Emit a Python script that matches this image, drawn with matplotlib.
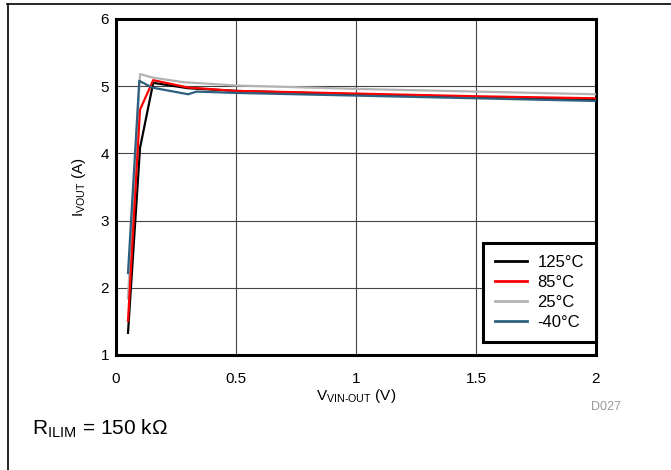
import matplotlib
matplotlib.use("Agg")
import matplotlib.pyplot as plt
from matplotlib.lines import Line2D

plt.rcParams['font.family'] = ['Liberation Sans', 'DejaVu Sans']
plt.rcParams['mathtext.fontset'] = 'custom'
plt.rcParams['mathtext.rm'] = 'Liberation Sans'
plt.rcParams['mathtext.it'] = 'Liberation Sans'
plt.rcParams['mathtext.default'] = 'regular'

# Data (V_VIN-OUT in V, I_VOUT in A)
x_125 = [0.05, 0.10, 0.155, 0.30, 0.50, 1.00, 1.50, 2.00]
y_125 = [1.33, 4.08, 5.05, 4.97, 4.93, 4.88, 4.84, 4.80]

x_85 = [0.05, 0.10, 0.155, 0.30, 0.50, 1.00, 1.50, 2.00]
y_85 = [1.51, 4.65, 5.09, 4.98, 4.93, 4.89, 4.85, 4.82]

x_25 = [0.05, 0.10, 0.15, 0.28, 0.50, 1.00, 1.50, 2.00]
y_25 = [1.84, 5.18, 5.13, 5.06, 5.01, 4.96, 4.92, 4.88]

x_m40 = [0.05, 0.097, 0.15, 0.30, 0.336, 0.50, 1.00, 1.50, 2.00]
y_m40 = [2.22, 5.08, 4.98, 4.88, 4.92, 4.90, 4.86, 4.82, 4.78]

labels = ['125°C', '85°C', '25°C', '-40°C']
colors = ['#000000', '#ff0000', '#b3b3b3', '#2f5f7f']

x_ticks = [0, 0.5, 1, 1.5, 2]
x_ticklabels = ['0', '0.5', '1', '1.5', '2']
y_ticks = [1, 2, 3, 4, 5, 6]

fig = plt.figure(figsize=(6.71, 4.70), dpi=100)
ax = fig.add_axes([116/671, 1-355/470, 480/671, 336/470])

series = [(x_125, y_125), (x_85, y_85), (x_25, y_25), (x_m40, y_m40)]
order = [2, 0, 1, 3]
for i in order:
    xs, ys = series[i]
    ax.plot(xs, ys, color=colors[i], lw=1.6, zorder=3)

ax.set_xlim(0, 2)
ax.set_ylim(1, 6)
ax.set_xticks(x_ticks)
ax.set_xticklabels(x_ticklabels)
ax.set_yticks(y_ticks)
ax.tick_params(length=0, labelsize=11, colors='black')
ax.tick_params(axis='x', pad=12)
ax.tick_params(axis='y', pad=5)
ax.grid(True, color='#444444', lw=0.8)
ax.set_axisbelow(True)
for s in ax.spines.values():
    s.set_linewidth(2.2)
    s.set_color('black')

ax.set_xlabel('V$_{VIN\u2010OUT}$ (V)', fontsize=11, labelpad=1)
ax.set_ylabel('I$_{VOUT}$ (A)', fontsize=11, labelpad=9)

handles = [Line2D([], [], color=colors[i], lw=2) for i in range(4)]
leg = ax.legend(handles, labels, loc='lower right', fontsize=12,
                bbox_to_anchor=(1.0, 13/336),
                frameon=True, fancybox=False, framealpha=1,
                borderaxespad=0.0, handlelength=1.9, handletextpad=0.65,
                labelspacing=0.3, borderpad=0.72)
leg.get_frame().set_edgecolor('black')
leg.get_frame().set_linewidth(2.2)
leg.set_zorder(5)

fig.text(591/671, 1-407/470, 'D027', fontsize=9, color='#999999',
         ha='left', va='center')
fig.text(32/671, 1-429/470, 'R$_{ILIM}$ = 150 k\u03a9', fontsize=15,
         ha='left', va='center')

# outer frame lines
fig.add_artist(Line2D([7/671, 1], [1-4.3/470, 1-4.3/470], color='black', lw=1.2,
                      transform=fig.transFigure))
fig.add_artist(Line2D([7.5/671, 7.5/671], [0, 1-4.3/470], color='black', lw=1.2,
                      transform=fig.transFigure))

fig.savefig('out.png', dpi=100)
